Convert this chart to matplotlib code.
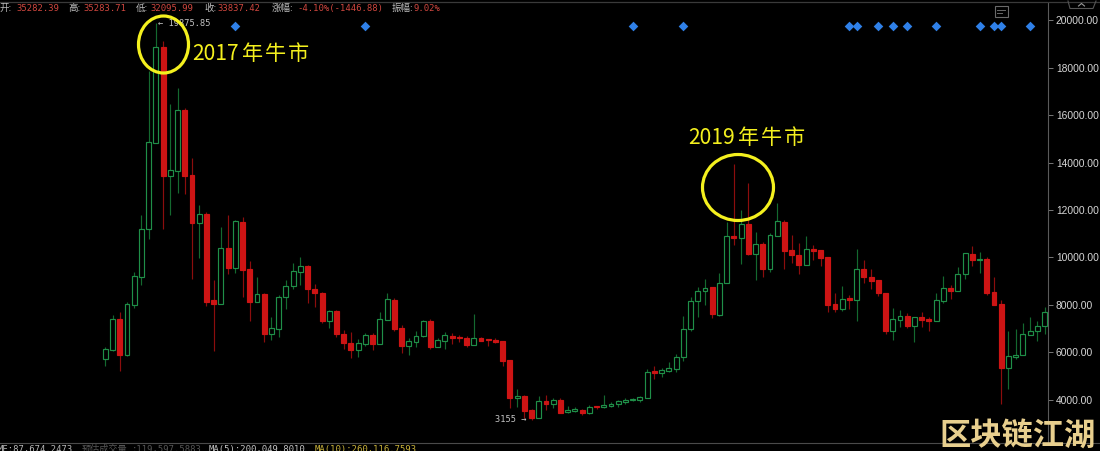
import matplotlib
matplotlib.use('Agg')
import matplotlib.pyplot as plt
from matplotlib.patches import Ellipse, Rectangle

plt.rcParams['font.family'] = ['Noto Sans CJK SC', 'DejaVu Sans']

# Values, one entry per candle
opens = [5700, 6090, 7385, 5865, 8005, 9185, 11185, 14840, 18865, 13445, 13660, 16205, 13475, 11465, 11830, 8200,
         8045, 10395, 9565, 11505, 9510, 8130, 8465, 6780, 6990, 8315, 8780, 9395, 9650, 8655, 8510, 7330,
         7725, 6755, 6400, 6090, 6330, 6710, 6345, 7355, 8200, 7005, 6260, 6440, 6680, 7315, 6220, 6485,
         6695, 6650, 6595, 6315, 6595, 6545, 6515, 6470, 5655, 4065, 4160, 3560, 3235, 3925, 3800, 3980,
         3460, 3530, 3560, 3430, 3730, 3675, 3740, 3800, 3895, 3980, 3970, 4080, 5190, 5130, 5220, 5290,
         5785, 6965, 8145, 8595, 8735, 7580, 8920, 10900, 10815, 11410, 10140, 10565, 9520, 10915, 11505, 10295,
         10115, 9690, 10355, 10295, 10015, 8030, 7835, 8275, 8215, 9495, 9170, 9030, 8485, 6895, 7370, 7515,
         7090, 7485, 7385, 7330, 8170, 8695, 8580, 9285, 10155, 9900, 9920, 8525, 8020, 5330, 5810, 5865,
         6735, 6895, 7090]
highs = [6205, 7555, 7695, 8115, 9395, 11790, 17875, 19875, 19145, 16470, 17135, 16290, 14180, 12210, 11925, 9045,
         11270, 11790, 11575, 11690, 9845, 9160, 8485, 7495, 8400, 9045, 9750, 10005, 9680, 8875, 8550, 7780,
         7765, 6920, 6840, 6545, 6795, 6795, 7705, 8510, 8275, 7145, 6610, 6895, 7355, 7410, 6585, 6850,
         6795, 6725, 6695, 7595, 6640, 6545, 6610, 6485, 5670, 4460, 4180, 3615, 4150, 4205, 4055, 4055,
         3730, 3675, 3590, 3760, 3730, 4205, 3895, 3980, 4065, 4080, 4135, 5290, 5415, 5345, 5600, 5910,
         7525, 8340, 8735, 9075, 8760, 9330, 11505, 13940, 12000, 13140, 11070, 10660, 11015, 12280, 11565, 10945,
         10620, 10900, 10510, 10310, 10030, 8510, 8790, 8410, 10340, 9890, 9495, 9045, 8495, 7850, 7780, 7640,
         7470, 7680, 7470, 8485, 9215, 8835, 9580, 10195, 10490, 10240, 10005, 9185, 8200, 6905, 6965, 7245,
         7470, 7300, 7890]
lows = [5415, 6035, 5190, 5840, 7865, 8845, 10790, 14840, 11185, 11790, 12730, 12675, 9085, 9985, 7960, 6060,
        8045, 9285, 9355, 8315, 7330, 8105, 6440, 6515, 6640, 7835, 8655, 8820, 8060, 7905, 7230, 7030,
        6640, 6135, 5755, 5810, 6260, 6090, 6345, 7355, 6880, 5975, 5880, 6220, 6625, 6120, 6205, 6120,
        6345, 6430, 6205, 6315, 6460, 6245, 6375, 5415, 3645, 3685, 3235, 3155, 3235, 3545, 3645, 3445,
        3445, 3460, 3335, 3390, 3600, 3655, 3685, 3685, 3825, 3925, 3895, 4080, 4865, 4940, 5175, 5175,
        5640, 6880, 7485, 7990, 7440, 7515, 8920, 10520, 9720, 10085, 9045, 9170, 9385, 10915, 9510, 9750,
        9300, 9680, 9890, 9635, 7695, 7695, 7750, 7810, 7300, 8930, 8680, 8370, 6780, 6515, 7075, 7030,
        6440, 7075, 6880, 7330, 8060, 8230, 8580, 9085, 9635, 9330, 8410, 7990, 3810, 4460, 5700, 5865,
        6735, 6485, 6755]
closes = [6120, 7385, 5865, 8020, 9200, 11195, 14855, 18865, 13445, 13675, 16205, 13445, 11465, 11830, 8130, 8030,
          10385, 9565, 11520, 9480, 8130, 8465, 6780, 7000, 8315, 8790, 9410, 9650, 8655, 8510, 7330, 7725,
          6755, 6400, 6090, 6375, 6710, 6345, 7410, 8230, 6975, 6260, 6460, 6695, 7315, 6230, 6500, 6710,
          6595, 6585, 6315, 6585, 6470, 6500, 6440, 5625, 4065, 4160, 3530, 3220, 3925, 3800, 3995, 3445,
          3560, 3590, 3430, 3685, 3675, 3770, 3825, 3925, 3995, 4025, 4095, 5175, 5110, 5235, 5310, 5785,
          6965, 8145, 8595, 8695, 7595, 8930, 10890, 10815, 11395, 10130, 10550, 9520, 10930, 11535, 10270, 10115,
          9690, 10340, 10270, 9985, 7990, 7820, 8255, 8200, 9495, 9160, 9005, 8485, 6895, 7385, 7515, 7090,
          7470, 7370, 7330, 8190, 8695, 8580, 9310, 10170, 9890, 9945, 8510, 8005, 5345, 5825, 5880, 6755,
          6880, 7090, 7680]
# candles that carry a blue marker in the top row
event_candles = [18, 36, 73, 80, 103, 104, 107, 109, 111, 115, 121, 123, 124, 128]
price_ticks = [4000, 6000, 8000, 10000, 12000, 14000, 16000, 18000, 20000]

W, H = 1100, 451
BG = '#000000'
UP, UP_WICK = '#1f8f48', '#14692f'
DOWN, DOWN_WICK = '#cd1414', '#8c0d0d'

fig = plt.figure(figsize=(W / 100, H / 100), dpi=100, facecolor=BG)

# main chart, right edge at the price axis line
ax = fig.add_axes([0, 1 - 443 / H, 1047.5 / W, 440 / H], facecolor=BG)
ax.set_xlim(-14.574, 130.41)
ax.set_ylim(2166, 20734)

xs = list(range(len(opens)))
up = [c >= o for o, c in zip(opens, closes)]
wick_colors = [UP_WICK if u else DOWN_WICK for u in up]
ax.vlines(xs, lows, highs, colors=wick_colors, linewidth=0.85, zorder=2)

bottoms = [min(o, c) for o, c in zip(opens, closes)]
heights = [abs(c - o) for o, c in zip(opens, closes)]
ax.bar(xs, heights, bottom=bottoms, width=0.68, zorder=3,
       color=[BG if u else DOWN for u in up],
       edgecolor=[UP if u else DOWN for u in up], linewidth=0.85)

ax.scatter(event_candles, [19780] * len(event_candles), marker='D', s=24,
           color='#2f80e8', linewidths=0, zorder=4)

for side in ['top', 'left', 'bottom']:
    ax.spines[side].set_visible(False)
ax.spines['right'].set_color('#5a5a5a')
ax.spines['right'].set_linewidth(0.8)
ax.set_xticks([])
ax.yaxis.tick_right()
ax.set_yticks(price_ticks)
ax.set_yticklabels([f'{p:.2f}' for p in price_ticks], fontsize=7.4,
                   family=['Liberation Sans'], color='#d6d6d6')
ax.tick_params(axis='y', length=3.5, width=0.7, color='#777777', pad=2.5)

# high / low labels
ax.text(7.3, 19875, '\u2190 19875.85', fontsize=6.2, family=['DejaVu Sans Mono'],
        color='#c4c4c4', ha='left', va='center', zorder=5)
ax.text(58.3, 3155, '3155 \u2192', fontsize=6.2, family=['DejaVu Sans Mono'],
        color='#c4c4c4', ha='right', va='center', zorder=5)

# overlay in pixel coordinates for the header, footer and hand drawn notes
over = fig.add_axes([0, 0, 1, 1], facecolor='none')
over.set_xlim(0, W)
over.set_ylim(H, 0)
over.axis('off')

over.plot([0, W], [1.5, 1.5], color='#3a3a3a', lw=0.9)
over.plot([0, W], [442.5, 442.5], color='#4a4a4a', lw=0.8)


def pair(x, y, label, value, value_x, color):
    over.text(x, y, label, fontsize=6.8, color='#bdbdbd', va='center', ha='left')
    over.text(value_x, y, value, fontsize=6.4, color=color, va='center', ha='left',
              family=['DejaVu Sans Mono'])


def note(x, y, year):
    # the handwritten notes have wide gaps between the characters
    over.text(x, y, year, fontsize=15.2, color=YELLOW, va='center', ha='left')
    for i, ch in enumerate('年牛市'):
        over.text(x + 50 + i * 23, y, ch, fontsize=15.2, color=YELLOW, va='center', ha='left')


RED_TXT = '#d0473f'
pair(0, 8.5, '开:', '35282.39', 16, RED_TXT)
pair(68, 8.5, '高:', '35283.71', 83, RED_TXT)
pair(136, 8.5, '低:', '32095.99', 150, RED_TXT)
pair(204, 8.5, '收:', '33837.42', 217, RED_TXT)
pair(272, 8.5, '涨幅:', '-4.10%(-1446.88)', 297, RED_TXT)
pair(392, 8.5, '振幅:', '9.02%', 414, RED_TXT)

# footer row is cut by the image edge
pair(-2, 449.5, '', 'ME:87,674.2473', -2, '#b8b8b8')
over.text(82, 449.5, '预估成交量', fontsize=6.6, color='#555555', va='center', ha='left')
over.text(132, 449.5, ':119,597.5883', fontsize=6.4, color='#555555', va='center', ha='left',
          family=['DejaVu Sans Mono'])
pair(209, 449.5, '', 'MA(5):200,049.8010', 209, '#c4c4c4')
pair(315, 449.5, '', 'MA(10):260,116.7593', 315, '#c9b23a')

# notes
YELLOW = '#f4f01e'
over.add_patch(Ellipse((163.5, 44.5), 50, 57, fill=False, edgecolor=YELLOW, lw=2.3, zorder=6))
over.add_patch(Ellipse((738, 187.5), 71, 66, fill=False, edgecolor=YELLOW, lw=2.3, zorder=6))
note(192, 53.5, '2017')
note(688, 138, '2019')

# little calendar icon and the collapse tab
over.add_patch(Rectangle((994.5, 6), 13, 11, fill=False, edgecolor='#6a6a6a', lw=0.8))
over.plot([997, 1005], [10, 10], color='#6a6a6a', lw=0.7)
over.plot([997, 1002], [13, 13], color='#6a6a6a', lw=0.7)
over.plot([1068, 1070, 1093, 1096], [1, 8.5, 8.5, 1], color='#555555', lw=0.8)
over.plot([1078.5, 1081.5, 1084.5], [6, 3.5, 6], color='#999999', lw=0.8)

# watermark
over.text(1018, 436.5, '区块链江湖', fontsize=22.5, fontweight='bold', color='#e8cf8e',
          va='center', ha='center', zorder=7)

fig.savefig('out.png', dpi=100, facecolor=BG)
